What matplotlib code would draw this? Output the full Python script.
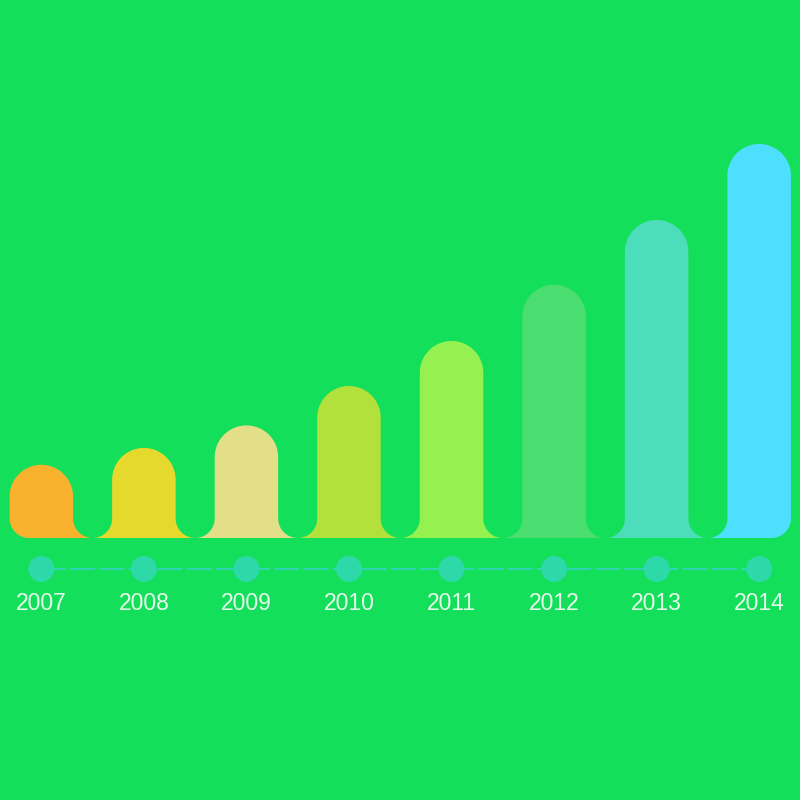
import numpy as np
import matplotlib.pyplot as plt
from matplotlib.patches import Polygon

years = ["2007", "2008", "2009", "2010", "2011", "2012", "2013", "2014"]
values = [13, 16, 20, 27, 35, 45, 56.5, 70]
colors = ["#F9B22E", "#E6D92E", "#E3DF88", "#B3E13C",
          "#94F150", "#4ADD70", "#4CDDBA", "#4FDFFE"]

bg = "#13DF5A"
W, H = 800, 800
xmin, xmax = -0.403, 7.398
ymin, ymax = -46.55, 95.58

fig = plt.figure(figsize=(8, 8), dpi=100, facecolor=bg)
ax = fig.add_axes([0, 0, 1, 1])
ax.set_facecolor(bg)
ax.set_xlim(xmin, xmax)
ax.set_ylim(ymin, ymax)
ax.axis("off")

# pixels per data unit, used to keep the round parts circular
kx = W / (xmax - xmin)
ky = H / (ymax - ymin)

bar_w = 63.5      # px
r_top = bar_w / 2
gap = kx - bar_w
r_foot = gap / 2


def arc(cx, cy, r, a0, a1, n=40):
    t = np.radians(np.linspace(a0, a1, n))
    return np.column_stack([cx + r * np.cos(t), cy + r * np.sin(t)])


def bar_shape(i, v, first, last):
    c = i * kx
    h = v * ky
    hw = bar_w / 2
    pts = []
    if first:
        pts.append([c - hw + r_foot, 0])
        pts.append(arc(c - hw + r_foot, r_foot, r_foot, 270, 180))
    else:
        pts.append([c - hw - r_foot, 0])
        pts.append(arc(c - hw - r_foot, r_foot, r_foot, -90, 0))
    pts.append(arc(c, h - r_top, r_top, 180, 0, 80))
    if last:
        pts.append(arc(c + hw - r_foot, r_foot, r_foot, 0, -90))
    else:
        pts.append(arc(c + hw + r_foot, r_foot, r_foot, 180, 270))
    p = np.vstack(pts)
    return np.column_stack([p[:, 0] / kx, p[:, 1] / ky])


n = len(years)
for i, (v, col) in enumerate(zip(values, colors)):
    poly = Polygon(bar_shape(i, v, i == 0, i == n - 1), closed=True,
                   facecolor=col, edgecolor="none", zorder=2)
    ax.add_patch(poly)

xs = np.arange(n)
line_y = -31 / ky
ax.plot(xs, [line_y] * n, color="#2ED5B0", lw=1.5,
        dashes=(12, 2), zorder=3)
ax.scatter(xs, [line_y] * n, s=350, color="#2DD9A8", edgecolors="none",
           zorder=4)

for i, y in enumerate(years):
    ax.text(i, -66 / ky, y, ha="center", va="center", fontsize=16.5,
            color="#E6FBEC", family="Liberation Sans", zorder=5)

fig.savefig("out.png", dpi=100, facecolor=bg)
